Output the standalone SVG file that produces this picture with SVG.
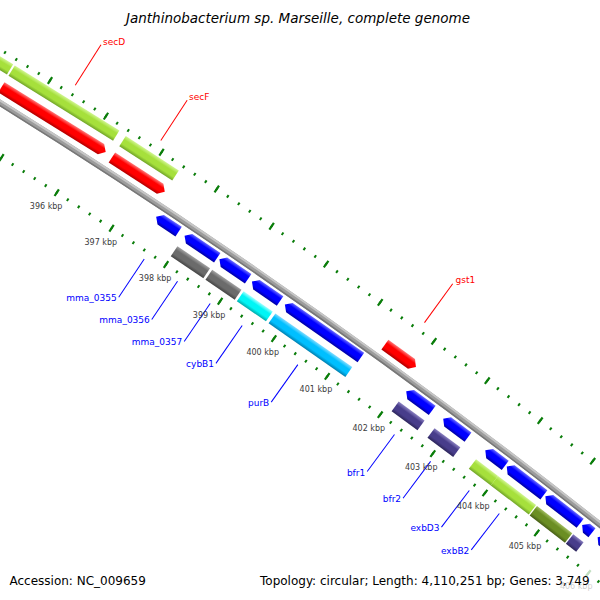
<svg xmlns="http://www.w3.org/2000/svg" width="600" height="600" viewBox="0 0 600 600">
<style>
text{font-family:"DejaVu Sans","Liberation Sans",sans-serif}
.kbp{font-size:8px;fill:#3c3c3c;text-anchor:middle}
.gl{font-size:9px}
.gi{fill:#0000ff;text-anchor:end}
.go{fill:#ff0000}
.ci{stroke:#0000ff;stroke-width:1}
.co{stroke:#ff0000;stroke-width:1}
.tk{fill:none;stroke:#0a7d0a}
.bb{fill:none}
</style>
<defs>
<linearGradient id="gR" x2="0" y2="1"><stop offset="0" stop-color="#ff7a7a"/><stop offset=".32" stop-color="#ff0000"/><stop offset=".7" stop-color="#ff0000"/><stop offset="1" stop-color="#b00000"/></linearGradient>
<linearGradient id="gL" x2="0" y2="1"><stop offset="0" stop-color="#d0f590"/><stop offset=".32" stop-color="#a6e03c"/><stop offset=".7" stop-color="#a6e03c"/><stop offset="1" stop-color="#70a428"/></linearGradient>
<linearGradient id="gB" x2="0" y2="1"><stop offset="0" stop-color="#6b6bff"/><stop offset=".32" stop-color="#0000ff"/><stop offset=".7" stop-color="#0000ff"/><stop offset="1" stop-color="#0000a0"/></linearGradient>
<linearGradient id="gG" x2="0" y2="1"><stop offset="0" stop-color="#a2a2a2"/><stop offset=".32" stop-color="#6b6b6b"/><stop offset=".7" stop-color="#6b6b6b"/><stop offset="1" stop-color="#454545"/></linearGradient>
<linearGradient id="gC" x2="0" y2="1"><stop offset="0" stop-color="#a0ffff"/><stop offset=".32" stop-color="#00f5f5"/><stop offset=".7" stop-color="#00f5f5"/><stop offset="1" stop-color="#00aaaa"/></linearGradient>
<linearGradient id="gS" x2="0" y2="1"><stop offset="0" stop-color="#80dcff"/><stop offset=".32" stop-color="#00bfff"/><stop offset=".7" stop-color="#00bfff"/><stop offset="1" stop-color="#0080b0"/></linearGradient>
<linearGradient id="gP" x2="0" y2="1"><stop offset="0" stop-color="#8a80c0"/><stop offset=".32" stop-color="#483d8b"/><stop offset=".7" stop-color="#483d8b"/><stop offset="1" stop-color="#2c255a"/></linearGradient>
<linearGradient id="gO" x2="0" y2="1"><stop offset="0" stop-color="#a0bc60"/><stop offset=".32" stop-color="#6b8e23"/><stop offset=".7" stop-color="#6b8e23"/><stop offset="1" stop-color="#475f17"/></linearGradient>
</defs>
<rect width="600" height="600" fill="#fff"/>
<g id="map" transform="translate(-3478 5688)">
 <g id="ticks" transform="rotate(-59.544)">
  <path class="tk" d="M6625 0A6625 6625 0 0 1 6540.22 1056.48" stroke-width="3" stroke-dasharray="2 11.2625" stroke-dashoffset="1"/>
  <path class="tk" d="M6625 0A6625 6625 0 0 1 6540.22 1056.48" stroke-width="8" stroke-dasharray="2.2 64.1127" stroke-dashoffset="1.1"/>
  <path class="tk" d="M6534 0A6534 6534 0 0 1 6450.38 1041.96" stroke-width="3" stroke-dasharray="2 11.0804" stroke-dashoffset="1"/>
  <path class="tk" d="M6534 0A6534 6534 0 0 1 6450.38 1041.96" stroke-width="8" stroke-dasharray="2.2 63.2018" stroke-dashoffset="1.1"/>
 </g>
 <g id="backbone" transform="rotate(-59.544)">
  <path class="bb" d="M6579.5 0A6579.5 6579.5 0 0 1 6495.30 1049.22" stroke="#9c9c9c" stroke-width="6"/>
  <path class="bb" d="M6581.5 0A6581.5 6581.5 0 0 1 6497.27 1049.54" stroke="#c6c6c6" stroke-width="2"/>
  <path class="bb" d="M6577.25 0A6577.25 6577.25 0 0 1 6493.08 1048.86" stroke="#777777" stroke-width="1.5"/>
 </g>
 <g id="features">
  <g id="gene-prev" transform="rotate(-58.684) translate(6619 0) rotate(90)"><rect width="59.6" height="12" fill="url(#gL)"/></g>
  <g id="secD-gene" transform="rotate(-58.150) translate(6619 0) rotate(90)"><rect width="123.1" height="12" fill="url(#gL)"/></g>
  <g id="secF-gene" transform="rotate(-57.012) translate(6619 0) rotate(90)"><rect width="63.2" height="12" fill="url(#gL)"/></g>
  <g id="secD" transform="rotate(-58.150) translate(6599.5 0) rotate(90)"><polygon points="0,0 117.3,0 122.8,6 117.3,12 0,12" fill="url(#gR)"/></g>
  <g id="secF" transform="rotate(-57.012) translate(6599.5 0) rotate(90)"><polygon points="0,0 57.5,0 63,6 57.5,12 0,12" fill="url(#gR)"/></g>
  <g id="gst1" transform="rotate(-54.136) translate(6599.5 0) rotate(90)"><polygon points="0,0 32.8,0 38.3,6 32.8,12 0,12" fill="url(#gR)"/></g>
  <g id="mma_0355" transform="rotate(-56.407) translate(6574 0) rotate(90)"><polygon points="5.5,0 27,0 27,11.5 5.5,11.5 0,5.75" fill="url(#gB)"/></g>
  <g id="mma_0356" transform="rotate(-56.109) translate(6574 0) rotate(90)"><polygon points="5.5,0 39.4,0 39.4,11.5 5.5,11.5 0,5.75" fill="url(#gB)"/></g>
  <g id="mma_0357" transform="rotate(-55.742) translate(6574 0) rotate(90)"><polygon points="5.5,0 34.8,0 34.8,11.5 5.5,11.5 0,5.75" fill="url(#gB)"/></g>
  <g id="cybB1" transform="rotate(-55.398) translate(6574 0) rotate(90)"><polygon points="5.5,0 34.2,0 34.2,11.5 5.5,11.5 0,5.75" fill="url(#gB)"/></g>
  <g id="purB" transform="rotate(-55.048) translate(6574 0) rotate(90)"><polygon points="5.5,0 92.7,0 92.7,11.5 5.5,11.5 0,5.75" fill="url(#gB)"/></g>
  <g id="bfr1" transform="rotate(-53.746) translate(6574 0) rotate(90)"><polygon points="5.5,0 32.2,0 32.2,11.5 5.5,11.5 0,5.75" fill="url(#gB)"/></g>
  <g id="bfr2" transform="rotate(-53.345) translate(6574 0) rotate(90)"><polygon points="5.5,0 30.9,0 30.9,11.5 5.5,11.5 0,5.75" fill="url(#gB)"/></g>
  <g id="exbD3" transform="rotate(-52.886) translate(6574 0) rotate(90)"><polygon points="5.5,0 25,0 25,11.5 5.5,11.5 0,5.75" fill="url(#gB)"/></g>
  <g id="exbB2" transform="rotate(-52.651) translate(6574 0) rotate(90)"><polygon points="5.5,0 46.7,0 46.7,11.5 5.5,11.5 0,5.75" fill="url(#gB)"/></g>
  <g id="cds-10" transform="rotate(-52.226) translate(6574 0) rotate(90)"><polygon points="5.5,0 44,0 44,11.5 5.5,11.5 0,5.75" fill="url(#gB)"/></g>
  <g id="cds-11" transform="rotate(-51.819) translate(6574 0) rotate(90)"><polygon points="5.5,0 12.5,0 12.5,11.5 5.5,11.5 0,5.75" fill="url(#gB)"/></g>
  <g id="cds-12" transform="rotate(-51.647) translate(6574 0) rotate(90)"><polygon points="5.5,0 80.9,0 80.9,11.5 5.5,11.5 0,5.75" fill="url(#gB)"/></g>
  <g id="mma_0356-gene" transform="rotate(-56.109) translate(6555.5 0) rotate(90)"><rect width="39.3" height="12" fill="url(#gG)"/></g>
  <g id="mma_0357-gene" transform="rotate(-55.742) translate(6555.5 0) rotate(90)"><rect width="35.4" height="12" fill="url(#gG)"/></g>
  <g id="cybB1-gene" transform="rotate(-55.409) translate(6555.5 0) rotate(90)"><rect width="35.4" height="12" fill="url(#gC)"/></g>
  <g id="purB-gene" transform="rotate(-55.071) translate(6555.5 0) rotate(90)"><rect width="93.7" height="12" fill="url(#gS)"/></g>
  <g id="bfr1-gene" transform="rotate(-53.746) translate(6555.5 0) rotate(90)"><rect width="32.1" height="12" fill="url(#gP)"/></g>
  <g id="bfr2-gene" transform="rotate(-53.356) translate(6555.5 0) rotate(90)"><rect width="32.1" height="12" fill="url(#gP)"/></g>
  <g id="exbD3-gene" transform="rotate(-52.903) translate(6555.5 0) rotate(90)"><rect width="27.6" height="12" fill="url(#gL)"/></g>
  <g id="exbB2-gene" transform="rotate(-52.662) translate(6555.5 0) rotate(90)"><rect width="47.9" height="12" fill="url(#gL)"/></g>
  <g id="gene-10" transform="rotate(-52.232) translate(6555.5 0) rotate(90)"><rect width="44.6" height="12" fill="url(#gO)"/></g>
  <g id="gene-11" transform="rotate(-51.830) translate(6555.5 0) rotate(90)"><rect width="13.1" height="12" fill="url(#gP)"/></g>
 </g>
 <g id="connectors">
  <line class="co" x1="6634.5" x2="6682.5" transform="rotate(-57.617)"/>
  <line class="co" x1="6634.5" x2="6682.5" transform="rotate(-56.738)"/>
  <line class="co" x1="6634.5" x2="6682.5" transform="rotate(-53.970)"/>
  <line class="ci" x1="6480.5" x2="6526.5" transform="rotate(-56.289)"/>
  <line class="ci" x1="6480.5" x2="6526.5" transform="rotate(-55.937)"/>
  <line class="ci" x1="6480.5" x2="6526.5" transform="rotate(-55.590)"/>
  <line class="ci" x1="6480.5" x2="6526.5" transform="rotate(-55.249)"/>
  <line class="ci" x1="6480.5" x2="6526.5" transform="rotate(-54.652)"/>
  <line class="ci" x1="6480.5" x2="6526.5" transform="rotate(-53.605)"/>
  <line class="ci" x1="6480.5" x2="6526.5" transform="rotate(-53.210)"/>
  <line class="ci" x1="6480.5" x2="6526.5" transform="rotate(-52.785)"/>
  <line class="ci" x1="6480.5" x2="6526.5" transform="rotate(-52.453)"/>
 </g>
 <g id="kbp-labels">
  <text class="kbp" x="-1.4" y="2.3" transform="rotate(-57.25) translate(6517 0) rotate(57.25)">396 kbp</text>
  <text class="kbp" x="-1.4" y="2.3" transform="rotate(-56.6765) translate(6517 0) rotate(56.6765)">397 kbp</text>
  <text class="kbp" x="-1.4" y="2.3" transform="rotate(-56.103) translate(6517 0) rotate(56.103)">398 kbp</text>
  <text class="kbp" x="-1.4" y="2.3" transform="rotate(-55.5295) translate(6517 0) rotate(55.5295)">399 kbp</text>
  <text class="kbp" x="-1.4" y="2.3" transform="rotate(-54.956) translate(6517 0) rotate(54.956)">400 kbp</text>
  <text class="kbp" x="-1.4" y="2.3" transform="rotate(-54.3825) translate(6517 0) rotate(54.3825)">401 kbp</text>
  <text class="kbp" x="-1.4" y="2.3" transform="rotate(-53.809) translate(6517 0) rotate(53.809)">402 kbp</text>
  <text class="kbp" x="-1.4" y="2.3" transform="rotate(-53.2355) translate(6517 0) rotate(53.2355)">403 kbp</text>
  <text class="kbp" x="-1.4" y="2.3" transform="rotate(-52.662) translate(6517 0) rotate(52.662)">404 kbp</text>
  <text class="kbp" x="-1.4" y="2.3" transform="rotate(-52.0885) translate(6517 0) rotate(52.0885)">405 kbp</text>
  <text class="kbp" x="-1.4" y="2.3" transform="rotate(-51.515) translate(6517 0) rotate(51.515)">406 kbp</text>
 </g>
</g>
<g id="gene-labels" class="gl">
 <text class="go" x="103" y="44.5">secD</text>
 <text class="go" x="189.1" y="99.5">secF</text>
 <text class="go" x="455.5" y="283.2">gst1</text>
 <text class="gi" x="116.7" y="301.2">mma_0355</text>
 <text class="gi" x="149.8" y="323.4">mma_0356</text>
 <text class="gi" x="182.2" y="345.4">mma_0357</text>
 <text class="gi" x="214" y="367.3">cybB1</text>
 <text class="gi" x="269.3" y="406.1">purB</text>
 <text class="gi" x="365.2" y="475.5">bfr1</text>
 <text class="gi" x="401.1" y="502.1">bfr2</text>
 <text class="gi" x="439.5" y="531.1">exbD3</text>
 <text class="gi" x="469.3" y="553.9">exbB2</text>
</g>
<text x="298" y="22.5" font-size="13.5" font-style="italic" text-anchor="middle" fill="#000">Janthinobacterium sp. Marseille, complete genome</text>
<rect x="256" y="569" width="340" height="25" fill="#fff" fill-opacity=".75"/>
<text x="9.5" y="585" font-size="12" fill="#000">Accession: NC_009659</text>
<text x="260" y="585" font-size="12" fill="#000">Topology: circular; Length: 4,110,251 bp; Genes: 3,749</text>
</svg>
